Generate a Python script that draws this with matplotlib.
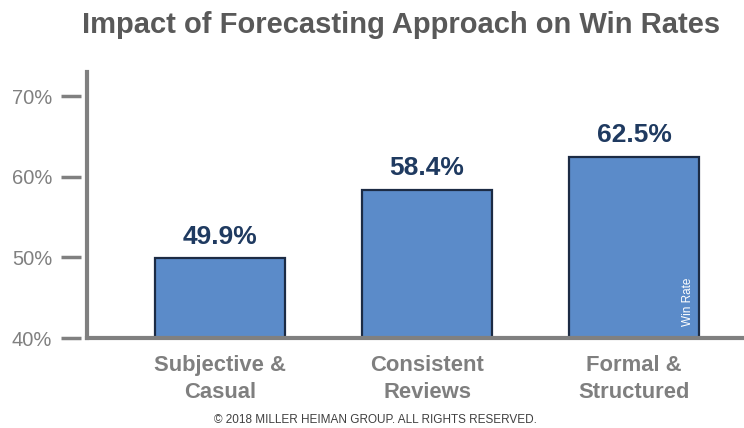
import matplotlib.pyplot as plt

plt.rcParams['font.family'] = ['Liberation Sans', 'DejaVu Sans']

categories = ["Subjective &\nCasual", "Consistent\nReviews", "Formal &\nStructured"]
win_rates = [49.9, 58.4, 62.5]
value_labels = ["49.9%", "58.4%", "62.5%"]
y_ticks = [40, 50, 60, 70]
y_tick_labels = ["40%", "50%", "60%", "70%"]

GRAY = "#808080"

fig = plt.figure(figsize=(7.44, 4.28), dpi=100)
ax = fig.add_axes([87 / 744, 1 - 338 / 428, 1 - 87 / 744, (338 - 72) / 428])

x = range(len(categories))
ax.bar(x, [v - 40 for v in win_rates], bottom=40, width=0.628,
       color="#5B8BC9", edgecolor="#1C2B44", linewidth=1.6, zorder=2)

for i, v in enumerate(win_rates):
    ax.text(i, v + 1.2, value_labels[i], ha="center", va="bottom",
            fontsize=19, fontweight="bold", color="#1F3A60")

ax.set_xlim(-0.643, 2.531)
ax.set_ylim(40, 73.0)

# axis lines
for s in ["top", "right"]:
    ax.spines[s].set_visible(False)
ax.spines["left"].set_color(GRAY)
ax.spines["left"].set_linewidth(3)
ax.spines["bottom"].set_color(GRAY)
ax.spines["bottom"].set_linewidth(3)
ax.spines["bottom"].set_zorder(3)

ax.set_yticks(y_ticks)
ax.set_yticklabels(y_tick_labels)
ax.tick_params(axis="y", length=0, labelsize=14.5, labelcolor=GRAY, pad=25)
ax.set_xticks([])

# detached tick dashes left of the axis
for t in y_ticks:
    ax.plot([-0.643 - 26 / 207, -0.643 - 6 / 207], [t, t], color=GRAY,
            linewidth=2.5, clip_on=False, solid_capstyle="butt")

for i, c in enumerate(categories):
    ax.text(i, 40 - 2.1, c, ha="center", va="top", fontsize=15.8,
            fontweight="bold", color="#7F7F7F", linespacing=1.35)

ax.text(2.26, 44.5, "Win Rate", rotation=90, ha="center", va="center",
        fontsize=8.5, color="white")

fig.text(401 / 744, 1 - 25 / 428, "Impact of Forecasting Approach on Win Rates",
         ha="center", va="center", fontsize=21, fontweight="bold", color="#595959")
fig.text(375 / 744, 1 - 420 / 428, "\u00a9 2018 MILLER HEIMAN GROUP. ALL RIGHTS RESERVED.",
         ha="center", va="center", fontsize=8.5, color="#404040")

fig.savefig("out.png", dpi=100)
